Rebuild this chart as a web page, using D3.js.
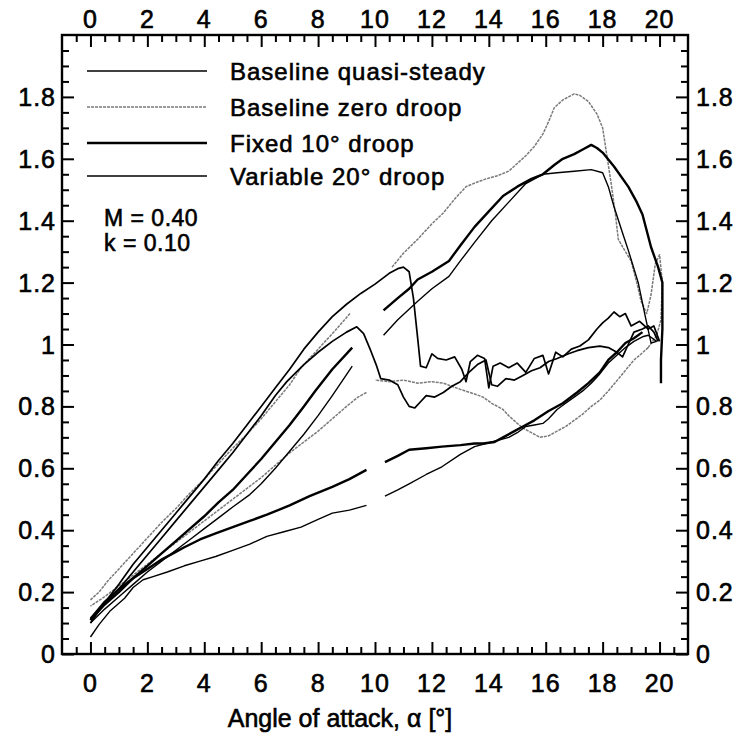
<!DOCTYPE html>
<html><head><meta charset="utf-8">
<script src="https://cdn.jsdelivr.net/npm/d3@7"></script>
<style>body{margin:0;background:#fff}svg text{font-family:"Liberation Sans",Arial,sans-serif;fill:#000;stroke:#000;stroke-width:0.6px}</style>
</head><body>
<svg id="c" width="750" height="742"></svg>
<script>
// ---- data ----
const legendLabels = ["Baseline quasi-steady","Baseline zero droop","Fixed 10\u00b0 droop","Variable 20\u00b0 droop"];
const xTickLabels = [0,2,4,6,8,10,12,14,16,18,20];
const yTickLabels = [0,0.2,0.4,0.6,0.8,1,1.2,1.4,1.6,1.8];
const annotation = ["M = 0.40","k = 0.10"];

const quasiSteady = [[0,0.10],[0.3,0.14],[0.7,0.19],[1,0.225],[1.5,0.29],[2,0.345],[2.5,0.40],[3,0.455],[3.5,0.51],[4,0.565],[4.5,0.625],[5,0.68],[5.5,0.74],[6,0.80],[6.5,0.86],[7,0.92],[7.5,0.985],[8,1.04],[8.5,1.09],[9,1.13],[9.5,1.165],[10,1.195],[10.5,1.23],[10.8,1.245],[11,1.25],[11.2,1.235],[11.35,1.15],[11.5,1.02],[11.6,0.93],[11.8,0.925],[12,0.97],[12.2,0.955],[12.5,0.95],[12.8,0.96],[13.05,0.92],[13.2,0.88],[13.35,0.945],[13.6,0.965],[13.85,0.955],[14.0,0.86],[14.15,0.93],[14.4,0.94],[14.7,0.925],[15,0.94],[15.3,0.91],[15.6,0.955],[15.9,0.965],[16.1,0.905],[16.35,0.975],[16.6,0.96],[16.9,0.985],[17.2,0.995],[17.5,1.015],[17.8,1.05],[18.0,1.07],[18.2,1.085],[18.4,1.105],[18.6,1.09],[18.8,1.10],[19.0,1.06],[19.3,1.075],[19.6,1.05],[19.8,1.06],[20,1.01]];
const quasiSteadyStall = [[0,0.115],[0.5,0.17],[1,0.21],[1.5,0.265],[2,0.32],[2.5,0.375],[3,0.43],[3.5,0.485],[4,0.54],[4.5,0.595],[5,0.65],[5.5,0.71],[6,0.77],[6.5,0.835],[6.9,0.88],[7.5,0.935],[8,0.975],[8.5,1.01],[9,1.04],[9.36,1.057],[9.6,1.035],[9.85,0.98],[10.06,0.93],[10.2,0.89],[10.5,0.885],[10.8,0.87],[11.0,0.83],[11.2,0.80],[11.4,0.795],[11.6,0.815],[11.8,0.835],[12.1,0.83],[12.4,0.845],[12.7,0.865],[13.0,0.88],[13.3,0.91],[13.6,0.935],[13.9,0.95],[14.1,0.87],[14.3,0.865],[14.6,0.89],[14.9,0.885],[15.2,0.9],[15.5,0.915],[15.8,0.925],[16.1,0.945],[16.4,0.955],[16.8,0.97],[17.1,0.98],[17.5,0.99],[17.9,0.995],[18.2,0.99],[18.5,0.975],[18.7,0.96],[18.9,1.0],[19.1,1.04],[19.4,1.05],[19.6,1.06],[19.8,1.04],[19.95,1.01]];

const zeroDroopUpA = [[0,0.175],[0.3,0.2],[0.6,0.235],[1,0.275],[1.5,0.325],[2,0.375],[2.5,0.425],[3,0.47],[3.5,0.52],[4,0.565],[4.5,0.615],[5,0.665],[5.5,0.71],[6,0.76],[6.5,0.815],[7,0.87],[7.4,0.925],[8,0.985],[8.6,1.045],[9.12,1.10]];
const zeroDroopUpB = [[10.6,1.25],[11,1.295],[11.5,1.34],[12,1.39],[12.4,1.425],[12.8,1.47],[13.2,1.51],[13.6,1.525],[13.9,1.535],[14.3,1.545],[14.7,1.56],[15,1.585],[15.3,1.61],[15.6,1.64],[15.9,1.68],[16.1,1.72],[16.3,1.765],[16.6,1.79],[16.8,1.80],[17,1.81],[17.2,1.805],[17.5,1.785],[17.8,1.745],[18,1.70],[18.15,1.61],[18.3,1.52],[18.45,1.42],[18.55,1.34],[18.8,1.30],[19,1.27],[19.2,1.20],[19.35,1.14],[19.55,1.10],[19.7,1.16],[19.85,1.26],[20,1.29],[20.1,1.20],[20.05,1.08],[19.9,1.03],[19.6,0.99]];
const zeroDroopDownA = [[19.6,0.99],[19.3,0.965],[19.1,0.95],[18.7,0.905],[18.2,0.85],[17.9,0.82],[17.6,0.80],[17.3,0.775],[17,0.755],[16.7,0.735],[16.4,0.72],[16.1,0.705],[15.8,0.70],[15.5,0.715],[15.2,0.73],[15,0.745],[14.7,0.77],[14.5,0.79],[14.1,0.81],[13.8,0.83],[13.5,0.84],[13,0.855],[12.4,0.875],[12,0.88],[11.5,0.875],[11,0.885],[10.5,0.88],[10,0.885]];
const zeroDroopDownB = [[9.7,0.845],[9.4,0.83],[9,0.80],[8.5,0.76],[8,0.72],[7.5,0.685],[7,0.65],[6.5,0.61],[6,0.57],[5.5,0.535],[5,0.50],[4.5,0.465],[4,0.43],[3.5,0.395],[3,0.36],[2.5,0.325],[2,0.29],[1.5,0.255],[1,0.22],[0.5,0.185],[0,0.155]];

const fixedUpA = [[0,0.11],[0.5,0.16],[1,0.20],[1.5,0.245],[2,0.285],[2.5,0.325],[3,0.365],[3.5,0.405],[4,0.445],[4.5,0.49],[5,0.53],[5.5,0.58],[6,0.63],[6.5,0.685],[7,0.74],[7.5,0.80],[7.9,0.85],[8.5,0.92],[9.2,0.99]];
const fixedUpB = [[10.3,1.11],[10.8,1.15],[11.2,1.18],[11.5,1.21],[12,1.235],[12.6,1.27],[13,1.32],[13.5,1.38],[14,1.43],[14.5,1.48],[15,1.51],[15.5,1.535],[15.9,1.55],[16.3,1.58],[16.6,1.60],[17,1.615],[17.3,1.63],[17.6,1.645],[17.8,1.635],[18,1.62],[18.4,1.575],[18.9,1.51],[19.2,1.46],[19.4,1.42],[19.7,1.315],[19.95,1.25],[20.1,1.20],[20.1,1.05],[20.05,0.95],[20.05,0.875]];
const fixedDownA = [[19.4,1.04],[19.1,1.02],[18.8,1.005],[18.5,0.975],[18.2,0.95],[17.9,0.91],[17.5,0.875],[17.1,0.845],[16.6,0.81],[16.1,0.785],[15.6,0.755],[15.2,0.735],[14.9,0.72],[14.5,0.70],[14.2,0.685],[13.8,0.68],[13.5,0.68],[13,0.675],[12.35,0.67],[11.8,0.665],[11.2,0.66],[10.8,0.64],[10.35,0.62]];
const fixedDownB = [[9.7,0.595],[9.1,0.565],[8.5,0.54],[7.7,0.51],[7,0.48],[6.2,0.45],[5.6,0.43],[5,0.41],[4.4,0.39],[3.85,0.37],[3.3,0.345],[3,0.33],[2.5,0.305],[2,0.275],[1.5,0.245],[1,0.21],[0.5,0.165],[0,0.11]];

const variableUpA = [[0,0.10],[0.5,0.145],[1,0.185],[1.5,0.225],[2,0.265],[2.5,0.30],[3,0.335],[3.5,0.37],[4,0.405],[4.5,0.44],[5,0.475],[5.6,0.515],[6,0.55],[6.5,0.60],[7,0.655],[7.5,0.71],[8,0.77],[8.5,0.835],[9.2,0.93]];
const variableUpB = [[10.3,1.03],[10.8,1.08],[11.5,1.14],[12,1.18],[12.6,1.22],[13,1.27],[13.5,1.33],[14.1,1.40],[14.7,1.46],[15.3,1.52],[15.9,1.55],[16.4,1.555],[17,1.56],[17.6,1.565],[18,1.555],[18.2,1.51],[18.4,1.445],[18.7,1.36],[18.9,1.305],[19.25,1.20],[19.5,1.09],[19.7,1.005],[19.9,1.01]];
const variableDownA = [[19.9,1.01],[19.6,1.03],[19.4,1.025],[19.1,1.01],[18.8,0.99],[18.5,0.965],[18.2,0.94],[17.9,0.905],[17.6,0.875],[17.3,0.85],[17,0.83],[16.7,0.81],[16.4,0.79],[16.1,0.76],[15.9,0.745],[15.6,0.74],[15.3,0.735],[15,0.715],[14.7,0.70],[14.1,0.685],[13.5,0.67],[13,0.645],[12.35,0.605],[11.8,0.58],[11.2,0.55],[10.8,0.53],[10.35,0.51]];
const variableDownB = [[9.7,0.48],[9.1,0.465],[8.5,0.455],[8,0.435],[7.4,0.41],[6.8,0.395],[6.2,0.38],[5.6,0.355],[5,0.335],[4.4,0.315],[3.85,0.30],[3.3,0.285],[2.7,0.265],[2.2,0.25],[1.85,0.24],[1.5,0.215],[1.2,0.18],[0.7,0.14],[0.3,0.095],[0,0.055]];

// ---- layout ----
const svg = d3.select("#c");
const L=62, R=688, T=35, B=654;
const x = d3.scaleLinear().domain([-1,21]).range([L,R]);
const y = d3.scaleLinear().domain([0,2]).range([B,T]);

const styles = [
  {stroke:"#000", w:1.7, dash:null},
  {stroke:"#7a7a7a", w:1.5, dash:"3,1"},
  {stroke:"#000", w:2.4, dash:null},
  {stroke:"#000", w:1.4, dash:null}
];
const seriesSegments = [
  [quasiSteady, quasiSteadyStall],
  [zeroDroopUpA, zeroDroopUpB, zeroDroopDownA, zeroDroopDownB],
  [fixedUpA, fixedUpB, fixedDownA, fixedDownB],
  [variableUpA, variableUpB, variableDownA, variableDownB]
];

const line = d3.line().x(d=>x(d[0])).y(d=>y(d[1]));
const plot = svg.append("g");
[1,3,2,0].forEach(i=>{
  seriesSegments[i].forEach(seg=>{
    plot.append("path").attr("d",line(seg)).attr("fill","none")
      .attr("stroke",styles[i].stroke).attr("stroke-width",styles[i].w)
      .attr("stroke-dasharray",styles[i].dash).attr("stroke-linejoin","round");
  });
});

// axes (ticks inward)
const minorX = d3.range(-0.5,21,0.5).filter(v=>Math.abs(v/2-Math.round(v/2))>1e-6);
const minorY = d3.range(0.05,2,0.05).filter(v=>Math.abs(v/0.2-Math.round(v/0.2))>1e-6);
const majorX = d3.range(0,21,2);
const majorY = d3.range(0,1.9,0.2);
const axLen = 12, miLen = 7;

function mk(axisFn, scale, ticks, len, tr){
  const g = svg.append("g").attr("transform",tr)
    .call(axisFn(scale).tickValues(ticks).tickSize(len).tickFormat(""));
  g.select(".domain").remove();
  g.selectAll(".tick line").attr("stroke","#000").attr("stroke-width",2);
  return g;
}
mk(d3.axisTop, x, majorX, axLen, `translate(0,${B})`);
mk(d3.axisTop, x, minorX, miLen, `translate(0,${B})`);
mk(d3.axisBottom, x, majorX, axLen, `translate(0,${T})`);
mk(d3.axisBottom, x, minorX, miLen, `translate(0,${T})`);
mk(d3.axisRight, y, majorY, axLen, `translate(${L},0)`);
mk(d3.axisRight, y, minorY, miLen, `translate(${L},0)`);
mk(d3.axisLeft, y, majorY, axLen, `translate(${R},0)`);
mk(d3.axisLeft, y, minorY, miLen, `translate(${R},0)`);

svg.append("rect").attr("x",L).attr("y",T).attr("width",R-L).attr("height",B-T)
  .attr("fill","none").attr("stroke","#000").attr("stroke-width",2.4);

const fs = 25;
const fmtY = v => (Math.abs(v-1)<1e-9? "1" : (Math.abs(v)<1e-9? "0" : d3.format(".1f")(v)));
xTickLabels.forEach(v=>{
  svg.append("text").attr("x",x(v)).attr("y",28).attr("text-anchor","middle")
    .attr("font-size",fs).attr("letter-spacing",1).text(v);
  svg.append("text").attr("x",x(v)).attr("y",692).attr("text-anchor","middle")
    .attr("font-size",fs).attr("letter-spacing",1).text(v);
});
yTickLabels.forEach(v=>{
  svg.append("text").attr("x",L-6).attr("y",y(v)+9).attr("text-anchor","end")
    .attr("font-size",fs).attr("letter-spacing",1).text(fmtY(v));
  svg.append("text").attr("x",R+8).attr("y",y(v)+9).attr("text-anchor","start")
    .attr("font-size",fs).attr("letter-spacing",1).text(fmtY(v));
});

svg.append("text").attr("x",340).attr("y",727).attr("text-anchor","middle")
  .attr("font-size",25).text("Angle of attack, \u03b1 [\u00b0]");

// legend
const legY = [71,107,143,176];
legendLabels.forEach((t,i)=>{
  svg.append("line").attr("x1",87).attr("x2",207).attr("y1",legY[i]).attr("y2",legY[i])
    .attr("stroke",styles[i].stroke).attr("stroke-width",styles[i].w)
    .attr("stroke-dasharray",styles[i].dash);
  svg.append("text").attr("x",230).attr("y",legY[i]+9).attr("font-size",24)
    .attr("letter-spacing",1).text(t);
});
annotation.forEach((t,i)=>{
  svg.append("text").attr("x",104).attr("y",226+i*25).attr("font-size",23)
    .attr("letter-spacing",0.5).text(t);
});
</script>
</body></html>
